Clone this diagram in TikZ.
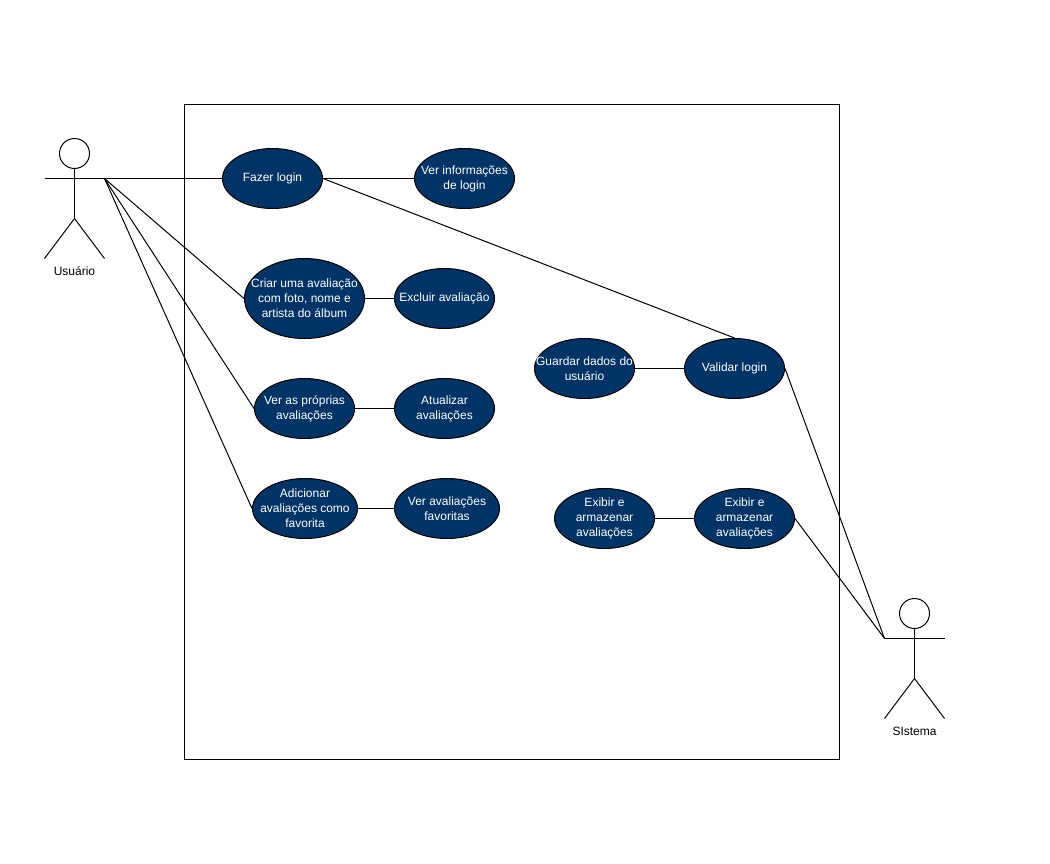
\documentclass[tikz,border=0pt]{standalone}
\usepackage{fontspec}
\setmainfont{Liberation Sans}
\definecolor{casefill}{HTML}{003366}
\tikzset{
  usecase/.style={ellipse,draw,fill=casefill,text=white,align=center,
    minimum width=#1*0.75pt,inner xsep=-40pt,inner ysep=-20pt},
  usecase/.default=100,
  actorhead/.style={circle,draw,minimum size=22.5pt,inner sep=0pt},
  actorlabel/.style={inner sep=0pt,align=center}
}
\usetikzlibrary{shapes.geometric}
\begin{document}
\begin{tikzpicture}[x=0.75pt,y=-0.75pt,line width=0.75pt,
    font=\fontsize{9}{11.25}\selectfont]
        \useasboundingbox (0,0) rectangle (1050,864);

        \draw (184.5,104.5) rectangle (839.5,759.5);

        \begin{scope}[shift={(0.5,0.5)},every node/.style={usecase,minimum height=45pt}]
          \node (login)     at (272,178) {Fazer login};
          \node (info)      at (464,178) {Ver informações\\de login};
          \node[minimum width=90pt,minimum height=60pt] (criar) at (304,298)
            {Criar uma avaliação\\com foto, nome e\\artista do álbum};
          \node (excluir)   at (444,298) {Excluir avaliação};
          \node (proprias)  at (304,408) {Ver as próprias\\avaliações};
          \node (atualizar) at (444,408) {Atualizar\\avaliações};
          \node[usecase=105] (adicionar) at (304.5,508)
            {Adicionar\\avaliações como\\favorita};
          \node[usecase=105] (favoritas) at (446.5,508)
            {Ver avaliações\\favoritas};
          \node (guardar)   at (584,368) {Guardar dados do\\usuário};
          \node (validar)   at (734,368) {Validar login};
          \node (exibirA)   at (604,518) {Exibir e\\armazenar\\avaliações};
          \node (exibirB)   at (744,518) {Exibir e\\armazenar\\avaliações};
        \end{scope}

        % actors
        \node[actorhead] (usuario) at (74.5,153.5) {};
        \coordinate (usuarioL) at (44.5,178.5);
        \coordinate (usuarioR) at (104.5,178.5);
        \coordinate (usuarioH) at (74.5,218.5);
        \coordinate (usuarioF) at (44.5,258.5);
        \coordinate (usuarioG) at (104.5,258.5);
        \node[actorlabel] (usuarioT) at (74.5,271.5) {Usuário};

        \node[actorhead] (sistema) at (914.5,613.5) {};
        \coordinate (sistemaL) at (884.5,638.5);
        \coordinate (sistemaR) at (944.5,638.5);
        \coordinate (sistemaH) at (914.5,678.5);
        \coordinate (sistemaF) at (884.5,718.5);
        \coordinate (sistemaG) at (944.5,718.5);
        \node[actorlabel] (sistemaT) at (914.5,731.5) {SIstema};

        \begin{scope}[every edge/.style={draw}]
          \path (usuario) edge (usuarioH);
          \path (usuarioL) edge (usuarioR);
          \path (usuarioH) edge (usuarioF);
          \path (usuarioH) edge (usuarioG);
          \path (sistema) edge (sistemaH);
          \path (sistemaL) edge (sistemaR);
          \path (sistemaH) edge (sistemaF);
          \path (sistemaH) edge (sistemaG);

          \path (usuarioR) edge (login.west);
          \path (usuarioR) edge (criar.west);
          \path (usuarioR) edge (proprias.west);
          \path (usuarioR) edge (adicionar.west);
          \path (login.east) edge (info.west);
          \path (login.east) edge (validar.north);
          \path (criar.east) edge (excluir.west);
          \path (proprias.east) edge (atualizar.west);
          \path (adicionar.east) edge (favoritas.west);
          \path (guardar.east) edge (validar.west);
          \path (exibirA.east) edge (exibirB.west);
          \path (validar.east) edge (sistemaL);
          \path (exibirB.east) edge (sistemaL);
        \end{scope}

      \end{tikzpicture}
\end{document}
